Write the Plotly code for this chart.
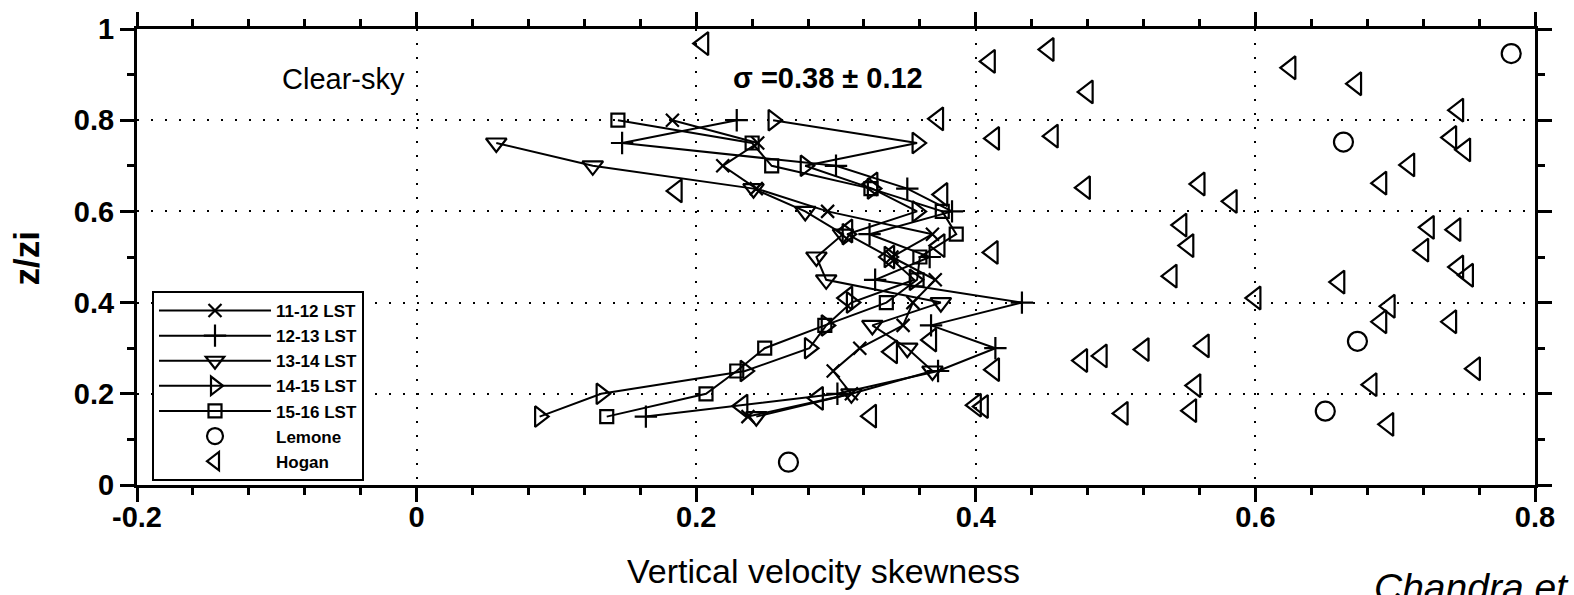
import plotly.graph_objects as go

# Heights (normalised by inversion height) of the hourly profiles
z_levels = [0.15, 0.20, 0.25, 0.30, 0.35, 0.40, 0.45, 0.50, 0.55, 0.60, 0.65, 0.70, 0.75, 0.80]
z_levels_1314 = z_levels[:13]

# Vertical velocity skewness per hour (LST)
skew_11_12 = [0.237, 0.311, 0.298, 0.317, 0.348, 0.355, 0.371, 0.340, 0.369, 0.294, 0.243, 0.219, 0.244, 0.183]
skew_12_13 = [0.164, 0.301, 0.373, 0.414, 0.368, 0.433, 0.328, 0.367, 0.324, 0.383, 0.351, 0.300, 0.147, 0.229]
skew_13_14 = [0.243, 0.311, 0.369, 0.351, 0.326, 0.375, 0.293, 0.286, 0.305, 0.278, 0.241, 0.126, 0.057]
skew_14_15 = [0.088, 0.132, 0.235, 0.281, 0.293, 0.311, 0.356, 0.338, 0.308, 0.358, 0.326, 0.278, 0.358, 0.255]
skew_15_16 = [0.136, 0.207, 0.229, 0.249, 0.292, 0.336, 0.358, 0.360, 0.386, 0.376, 0.325, 0.254, 0.240, 0.144]

# Reference observations
lemone_skew = [0.783, 0.663, 0.673, 0.650, 0.266]
lemone_z = [0.946, 0.752, 0.315, 0.162, 0.050]

hogan_skew = [0.205, 0.410, 0.452, 0.480, 0.625, 0.672, 0.745, 0.373, 0.413, 0.455,
              0.740, 0.750, 0.710, 0.690, 0.478, 0.560, 0.583, 0.186, 0.376, 0.326,
              0.547, 0.552, 0.724, 0.743, 0.720, 0.745, 0.752, 0.660, 0.540, 0.600,
              0.696, 0.690, 0.740, 0.412, 0.374, 0.338, 0.308, 0.308, 0.563, 0.520,
              0.490, 0.476, 0.757, 0.683, 0.557, 0.554, 0.505, 0.695, 0.413, 0.405,
              0.400, 0.368, 0.340, 0.325, 0.287, 0.233]
hogan_z = [0.968, 0.929, 0.955, 0.862, 0.915, 0.880, 0.822, 0.803, 0.760, 0.765,
           0.762, 0.735, 0.702, 0.662, 0.652, 0.660, 0.622, 0.645, 0.637, 0.660,
           0.570, 0.525, 0.565, 0.560, 0.515, 0.478, 0.460, 0.445, 0.458, 0.410,
           0.392, 0.358, 0.358, 0.510, 0.525, 0.500, 0.557, 0.410, 0.305, 0.297,
           0.283, 0.273, 0.255, 0.220, 0.218, 0.163, 0.157, 0.133, 0.253, 0.172,
           0.175, 0.318, 0.292, 0.151, 0.190, 0.173]

x_ticks = [-0.2, 0, 0.2, 0.4, 0.6, 0.8]
x_tick_labels = ["-0.2", "0", "0.2", "0.4", "0.6", "0.8"]
y_ticks = [0, 0.2, 0.4, 0.6, 0.8, 1]
y_tick_labels = ["0", "0.2", "0.4", "0.6", "0.8", "1"]

FONT = "Liberation Sans, Arial, sans-serif"
INK = "black"

# Plot-area geometry in pixels
W, H = 1574, 595
L, R, T, B = 137, 39, 22, 110
PW, PH = W - L - R, H - T - B


def px_to_paper(px, py):
    return (px - L) / PW, (H - B - py) / PH


def label(px, py, text, size, bold=False, angle=0, xanchor="center"):
    tx, ty = px_to_paper(px, py)
    fig.add_annotation(
        x=tx, y=ty, xref="paper", yref="paper", text=text, textangle=angle,
        showarrow=False, xanchor=xanchor, yanchor="middle",
        font=dict(family=FONT, size=size, color=INK, weight="bold" if bold else "normal"),
    )


fig = go.Figure()

profiles = [
    ("11-12 LST", skew_11_12, z_levels, "x-thin-open", 13),
    ("12-13 LST", skew_12_13, z_levels, "cross-thin-open", 16),
    ("13-14 LST", skew_13_14, z_levels_1314, "triangle-down-open", 18),
    ("14-15 LST", skew_14_15, z_levels, "triangle-right-open", 18),
    ("15-16 LST", skew_15_16, z_levels, "square-open", 13),
]
for name, xs, zs, sym, size in profiles:
    fig.add_trace(go.Scatter(
        x=xs, y=zs, name=name, mode="lines+markers",
        line=dict(color=INK, width=2),
        marker=dict(symbol=sym, size=size, color=INK, line=dict(color=INK, width=2.2)),
    ))

fig.add_trace(go.Scatter(
    x=lemone_skew, y=lemone_z, name="Lemone", mode="markers",
    marker=dict(symbol="circle-open", size=19, color=INK, line=dict(color=INK, width=2.2)),
))
fig.add_trace(go.Scatter(
    x=hogan_skew, y=hogan_z, name="Hogan", mode="markers",
    marker=dict(symbol="triangle-left-open", size=20, color=INK, line=dict(color=INK, width=2.2)),
))

axis_common = dict(
    showline=True, linecolor=INK, linewidth=3, mirror="ticks",
    ticks="outside", ticklen=14, tickwidth=2.5, tickcolor=INK,
    showgrid=True, gridcolor=INK, gridwidth=2, griddash="2px,12px",
    zeroline=False,
    tickfont=dict(family=FONT, size=29, color=INK, weight="bold"),
)

fig.update_xaxes(
    range=[-0.2, 0.8], tickvals=x_ticks, ticktext=x_tick_labels,
    ticklabelstandoff=-10,
    minor=dict(dtick=0.04, ticks="outside", ticklen=7, tickwidth=2.5, tickcolor=INK, showgrid=False),
    **axis_common,
)
fig.update_yaxes(
    range=[0, 1], tickvals=y_ticks, ticktext=y_tick_labels,
    minor=dict(dtick=0.1, ticks="outside", ticklen=7, tickwidth=2.5, tickcolor=INK, showgrid=False),
    **axis_common,
)

# Axis titles
label(823, 572, "Vertical velocity skewness", 34)
label(26, 255, "z/zi", 35, bold=True, angle=-90)

# In-panel labels
label(343, 73, "Clear-sky", 29)
label(828, 72, "σ =0.38 ± 0.12", 29, bold=True)

# Citation, running off the lower-right corner
label(1372, 589, "<i>Chandra et al.</i>", 39, xanchor="left")

lx, ly = px_to_paper(152, 288)
fig.update_layout(
    width=W, height=H,
    margin=dict(l=L, r=R, t=T, b=B),
    paper_bgcolor="white", plot_bgcolor="white",
    showlegend=True,
    legend=dict(
        x=lx, y=ly, xanchor="left", yanchor="top",
        bgcolor="white", bordercolor=INK, borderwidth=2,
        font=dict(family=FONT, size=17, color=INK, weight="bold"),
        itemwidth=112, tracegroupgap=0,
    ),
)

fig.write_html("out.html")
